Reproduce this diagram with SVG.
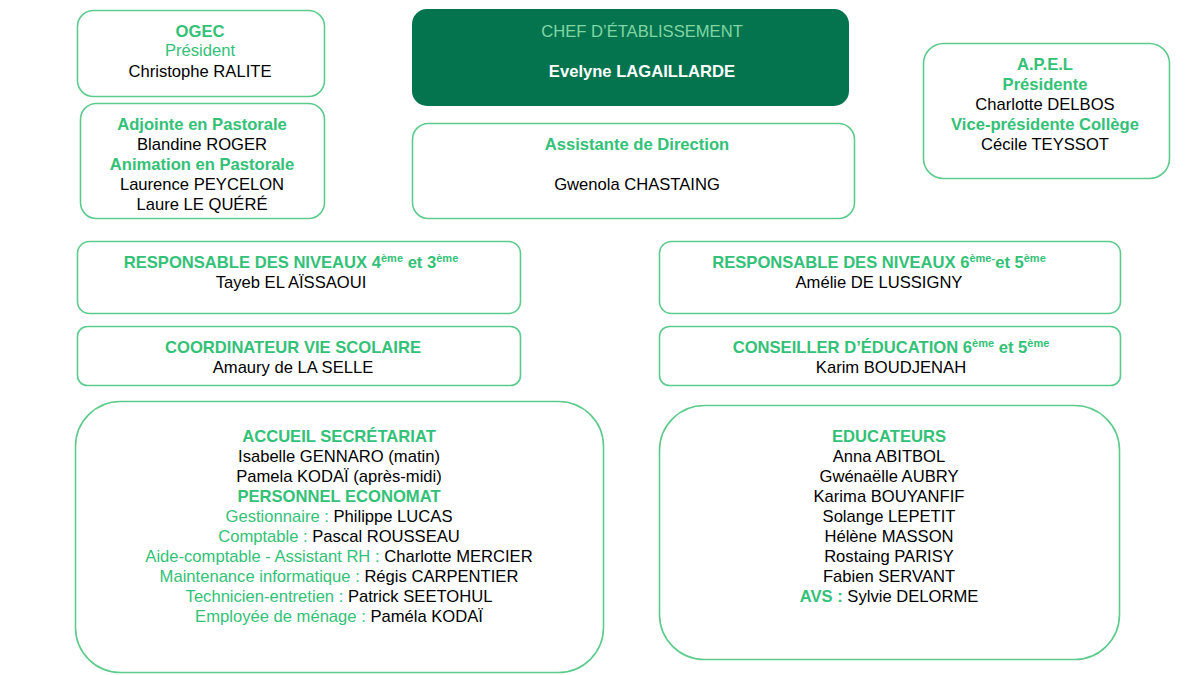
<svg xmlns="http://www.w3.org/2000/svg" width="1200" height="675" viewBox="0 0 1200 675">
<style>
text{font-family:"Liberation Sans",Arial,sans-serif;font-size:16.6px;text-anchor:middle;fill:#000}
.box{fill:#fff;stroke:#5CCB8C;stroke-width:1.6}
.g{fill:#33C178}
.b{font-weight:bold}
.sup{font-size:11px}
</style>
<rect width="1200" height="675" fill="#fff"/>
<g id="connectors"/>
<g id="ogec">
<rect class="box" x="77.5" y="10.5" width="247" height="86" rx="16"/>
<text x="200" y="37" class="g b">OGEC</text>
<text x="200" y="56" class="g">Président</text>
<text x="200" y="77">Christophe RALITE</text>
</g>
<g id="pastorale">
<rect class="box" x="80.5" y="103.5" width="244" height="115" rx="16"/>
<text x="202" y="130" class="g b">Adjointe en Pastorale</text>
<text x="202" y="150">Blandine ROGER</text>
<text x="202" y="170" class="g b">Animation en Pastorale</text>
<text x="202" y="190">Laurence PEYCELON</text>
<text x="202" y="210">Laure LE QUÉRÉ</text>
</g>
<g id="chef">
<rect x="412" y="9" width="437" height="97" rx="15" fill="#03744E"/>
<text x="642" y="37" style="fill:#7FD6A4">CHEF D’ÉTABLISSEMENT</text>
<text x="642" y="77" class="b" style="fill:#fff">Evelyne LAGAILLARDE</text>
</g>
<g id="assistante">
<rect class="box" x="412.5" y="123.5" width="442" height="95" rx="16"/>
<text x="637" y="150" class="g b">Assistante de Direction</text>
<text x="637" y="190">Gwenola CHASTAING</text>
</g>
<g id="apel">
<rect class="box" x="923.5" y="43.5" width="246" height="135" rx="20"/>
<text x="1045" y="70" class="g b">A.P.E.L</text>
<text x="1045" y="90" class="g b">Présidente</text>
<text x="1045" y="110">Charlotte DELBOS</text>
<text x="1045" y="130" class="g b">Vice-présidente Collège</text>
<text x="1045" y="150">Cécile TEYSSOT</text>
</g>
<g id="resp43">
<rect class="box" x="77.5" y="241.5" width="443" height="72" rx="12"/>
<text x="291" y="268" class="g b">RESPONSABLE DES NIVEAUX 4<tspan class="sup" dy="-6">ème</tspan><tspan dy="6"> et 3</tspan><tspan class="sup" dy="-6">ème</tspan></text>
<text x="291" y="288">Tayeb EL AÏSSAOUI</text>
</g>
<g id="resp65">
<rect class="box" x="659.5" y="241.5" width="461" height="72" rx="12"/>
<text x="879" y="268" class="g b">RESPONSABLE DES NIVEAUX 6<tspan class="sup" dy="-6">ème-</tspan><tspan dy="6">et 5</tspan><tspan class="sup" dy="-6">ème</tspan></text>
<text x="879" y="288">Amélie DE LUSSIGNY</text>
</g>
<g id="coordinateur">
<rect class="box" x="77.5" y="326.5" width="443" height="59" rx="10"/>
<text x="293" y="353" class="g b">COORDINATEUR VIE SCOLAIRE</text>
<text x="293" y="373">Amaury de LA SELLE</text>
</g>
<g id="conseiller">
<rect class="box" x="659.5" y="326.5" width="461" height="59" rx="10"/>
<text x="891" y="353" class="g b">CONSEILLER D’ÉDUCATION 6<tspan class="sup" dy="-6">ème</tspan><tspan dy="6"> et 5</tspan><tspan class="sup" dy="-6">ème</tspan></text>
<text x="891" y="373">Karim BOUDJENAH</text>
</g>
<g id="accueil">
<rect class="box" x="75.5" y="401.5" width="528" height="271" rx="45"/>
<text x="339" y="442" class="g b">ACCUEIL SECRÉTARIAT</text>
<text x="339" y="462">Isabelle GENNARO (matin)</text>
<text x="339" y="482">Pamela KODAÏ (après-midi)</text>
<text x="339" y="502" class="g b">PERSONNEL ECONOMAT</text>
<text x="339" y="522"><tspan class="g">Gestionnaire : </tspan>Philippe LUCAS</text>
<text x="339" y="542"><tspan class="g">Comptable : </tspan>Pascal ROUSSEAU</text>
<text x="339" y="562"><tspan class="g">Aide-comptable - Assistant RH : </tspan>Charlotte MERCIER</text>
<text x="339" y="582"><tspan class="g">Maintenance informatique : </tspan>Régis CARPENTIER</text>
<text x="339" y="602"><tspan class="g">Technicien-entretien : </tspan>Patrick SEETOHUL</text>
<text x="339" y="622"><tspan class="g">Employée de ménage : </tspan>Paméla KODAÏ</text>
</g>
<g id="educateurs">
<rect class="box" x="659.5" y="405.5" width="460" height="254" rx="45"/>
<text x="889" y="442" class="g b">EDUCATEURS</text>
<text x="889" y="462">Anna ABITBOL</text>
<text x="889" y="482">Gwénaëlle AUBRY</text>
<text x="889" y="502">Karima BOUYANFIF</text>
<text x="889" y="522">Solange LEPETIT</text>
<text x="889" y="542">Hélène MASSON</text>
<text x="889" y="562">Rostaing PARISY</text>
<text x="889" y="582">Fabien SERVANT</text>
<text x="889" y="602"><tspan class="g b">AVS : </tspan>Sylvie DELORME</text>
</g>
</svg>
